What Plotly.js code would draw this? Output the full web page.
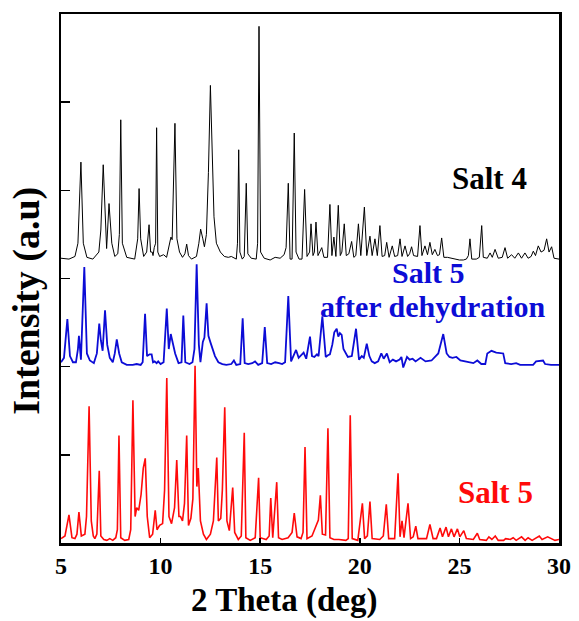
<!DOCTYPE html>
<html>
<head>
<meta charset="utf-8">
<script src="https://cdn.plot.ly/plotly-3.0.1.min.js"></script>
<style>
  html, body { margin: 0; padding: 0; background: #fff; }
  #chart { width: 579px; height: 621px; }
</style>
</head>
<body>
<div id="chart"></div>
<script>
// Powder X-ray diffraction patterns, stacked with vertical offsets (arbitrary units)

// Salt 4 (black, top)
const salt4_2theta = [
  5.00, 5.40, 5.70, 5.85, 6.00, 6.12, 6.30, 6.60, 6.90, 7.00, 7.12, 7.22, 7.29, 7.41, 7.55, 7.70,
  7.85, 7.93, 8.00, 8.08, 8.30, 8.70, 8.85, 8.92, 9.00, 9.15, 9.30, 9.42, 9.50, 9.58, 9.62, 9.68,
  9.75, 9.80, 9.86, 9.95, 10.15, 10.30, 10.45, 10.52, 10.58, 10.72, 10.82, 10.95, 11.10, 11.22,
  11.31, 11.40, 11.55, 11.80, 11.92, 12.01, 12.12, 12.20, 12.30, 12.40, 12.50, 12.58, 12.68, 12.80,
  13.00, 13.20, 13.40, 13.55, 13.70, 13.80, 13.86, 13.92, 13.98, 14.10, 14.20, 14.30, 14.38, 14.55,
  14.80, 14.87, 14.94, 15.02, 15.20, 15.50, 15.75, 16.00, 16.20, 16.30, 16.41, 16.50, 16.60, 16.71,
  16.80, 16.95, 17.10, 17.23, 17.35, 17.48, 17.55, 17.65, 17.72, 17.80, 17.90, 18.00, 18.09, 18.20,
  18.38, 18.50, 18.60, 18.70, 18.80, 18.92, 19.02, 19.10, 19.22, 19.32, 19.45, 19.59, 19.70, 19.80,
  19.93, 20.05, 20.23, 20.35, 20.51, 20.62, 20.76, 20.88, 21.01, 21.12, 21.25, 21.35, 21.47, 21.63,
  21.75, 21.90, 22.02, 22.12, 22.27, 22.40, 22.50, 22.60, 22.70, 22.90, 23.02, 23.12, 23.27, 23.40,
  23.52, 23.64, 23.77, 23.90, 24.00, 24.11, 24.22, 24.40, 24.60, 24.80, 25.00, 25.20, 25.35, 25.45,
  25.53, 25.62, 25.85, 26.00, 26.12, 26.20, 26.40, 26.54, 26.65, 26.79, 26.95, 27.15, 27.29, 27.42,
  27.62, 27.78, 27.96, 28.12, 28.29, 28.45, 28.60, 28.71, 28.82, 28.96, 29.10, 29.25, 29.38, 29.50,
  29.63, 29.75, 30.00
];
const salt4_intensity = [
  3.23, 3.22, 3.25, 3.40, 4.32, 3.40, 3.24, 3.22, 3.30, 3.55, 4.29, 3.60, 3.34, 3.85, 3.40, 3.25,
  3.28, 3.50, 4.80, 3.40, 3.24, 3.22, 3.45, 4.02, 3.45, 3.25, 3.30, 3.61, 3.30, 3.30, 3.26, 3.35,
  3.40, 4.71, 3.30, 3.25, 3.27, 3.24, 3.40, 3.47, 3.44, 4.76, 3.45, 3.30, 3.24, 3.28,
  3.39, 3.26, 3.22, 3.25, 3.40, 3.56, 3.45, 3.36, 3.50, 4.20, 5.19, 4.60, 3.70, 3.40,
  3.30, 3.25, 3.24, 3.25, 3.23, 3.22, 3.40, 4.46, 3.30, 3.22, 3.25, 4.08, 3.28, 3.23,
  3.22, 3.40, 5.86, 3.30, 3.23, 3.21, 3.24, 3.23, 3.27, 3.35, 4.08, 3.22, 3.22, 4.65,
  3.30, 3.22, 3.22, 4.01, 3.25, 3.30, 3.62, 3.26, 3.30, 3.64, 3.26, 3.30, 3.35, 3.24,
  3.24, 3.84, 3.26, 3.47, 3.25, 3.83, 3.26, 3.30, 3.62, 3.26, 3.28, 3.42, 3.24, 3.26,
  3.62, 3.26, 3.81, 3.26, 3.48, 3.26, 3.45, 3.26, 3.60, 3.25, 3.26, 3.41, 3.24, 3.37,
  3.25, 3.26, 3.45, 3.25, 3.37, 3.25, 3.28, 3.36, 3.26, 3.25, 3.60, 3.26, 3.37, 3.27,
  3.41, 3.27, 3.33, 3.26, 3.27, 3.46, 3.24, 3.24, 3.23, 3.22, 3.21, 3.21, 3.22, 3.26,
  3.45, 3.22, 3.22, 3.24, 3.60, 3.24, 3.23, 3.29, 3.24, 3.33, 3.23, 3.24, 3.35, 3.23,
  3.27, 3.23, 3.29, 3.23, 3.29, 3.23, 3.25, 3.31, 3.26, 3.37, 3.30, 3.32, 3.45, 3.30,
  3.36, 3.23, 3.22
];

// Salt 5 after dehydration (blue, middle)
const dehyd_2theta = [
  5.00, 5.15, 5.32, 5.45, 5.60, 5.75, 5.85, 5.90, 6.00, 6.17, 6.30, 6.45, 6.65, 6.80, 6.92, 7.00,
  7.09, 7.21, 7.32, 7.45, 7.60, 7.70, 7.80, 7.92, 8.05, 8.30, 8.60, 8.80, 9.00, 9.10, 9.22, 9.32,
  9.45, 9.55, 9.62, 9.70, 9.80, 9.88, 10.00, 10.15, 10.31, 10.41, 10.51, 10.62, 10.73, 10.90, 11.05,
  11.14, 11.24, 11.45, 11.60, 11.70, 11.81, 11.92, 12.00, 12.12, 12.20, 12.31, 12.40, 12.51, 12.62,
  12.73, 12.90, 13.10, 13.30, 13.55, 13.68, 13.80, 14.00, 14.12, 14.22, 14.40, 14.60, 14.74, 14.90,
  15.10, 15.23, 15.35, 15.55, 15.75, 15.95, 16.10, 16.25, 16.41, 16.55, 16.68, 16.80, 16.93, 17.05,
  17.18, 17.31, 17.50, 17.60, 17.72, 17.85, 17.93, 18.12, 18.29, 18.40, 18.50, 18.62, 18.72, 18.84,
  18.92, 19.00, 19.09, 19.18, 19.26, 19.40, 19.60, 19.81, 19.96, 20.10, 20.20, 20.35, 20.48, 20.60,
  20.75, 20.92, 21.08, 21.20, 21.36, 21.50, 21.66, 21.82, 22.00, 22.09, 22.18, 22.37, 22.50, 22.65,
  22.80, 23.05, 23.30, 23.60, 23.94, 24.19, 24.36, 24.50, 24.65, 24.85, 25.05, 25.25, 25.50, 25.70,
  25.90, 26.10, 26.30, 26.40, 26.61, 26.85, 27.20, 27.30, 27.60, 27.85, 28.05, 28.40, 28.70, 28.85,
  29.05, 29.20, 29.30, 29.60, 30.00
];
const dehyd_intensity = [
  2.05, 2.10, 2.54, 2.12, 2.05, 2.05, 2.20, 2.35, 2.08, 3.13, 2.15, 2.07, 2.04, 2.15, 2.49, 2.30,
  2.18, 2.64, 2.25, 2.10, 2.05, 2.15, 2.31, 2.15, 2.05, 2.02, 2.02, 2.03, 2.02, 2.05, 2.60, 2.12,
  2.14, 2.14, 2.05, 2.06, 2.04, 2.06, 2.03, 2.05, 2.66, 2.20, 2.37, 2.25, 2.15, 2.04, 2.05,
  2.58, 2.05, 2.03, 2.05, 2.20, 3.16, 2.25, 2.05, 2.28, 2.33, 2.72, 2.35, 2.27, 2.18,
  2.12, 2.05, 2.03, 2.02, 2.03, 2.07, 2.02, 2.03, 2.55, 2.04, 2.03, 2.04, 2.06, 2.02,
  2.04, 2.45, 2.04, 2.03, 2.05, 2.04, 2.03, 2.05, 2.80, 2.06, 2.12, 2.19, 2.10, 2.13,
  2.16, 2.09, 2.34, 2.12, 2.11, 2.14, 2.12, 2.57, 2.11, 2.13, 2.14, 2.25, 2.39, 2.43,
  2.34, 2.38, 2.36, 2.20, 2.17, 2.11, 2.12, 2.43, 2.08, 2.12, 2.10, 2.26, 2.12, 2.06,
  2.04, 2.06, 2.15, 2.09, 2.15, 2.05, 2.08, 2.06, 2.08, 2.11, 1.99, 2.11, 2.08, 2.09,
  2.06, 2.10, 2.06, 2.07, 2.15, 2.37, 2.15, 2.11, 2.10, 2.11, 2.07, 2.06, 2.05, 2.04,
  2.07, 2.03, 2.03, 2.15, 2.18, 2.16, 2.15, 2.04, 2.03, 2.04, 2.02, 2.02, 2.02, 2.06,
  2.07, 2.07, 2.03, 2.02, 2.02
];

// Salt 5 (red, bottom)
const salt5_2theta = [
  5.00, 5.20, 5.40, 5.55, 5.70, 5.80, 5.90, 6.02, 6.20, 6.28, 6.41, 6.52, 6.62, 6.70, 6.80, 6.92,
  7.00, 7.15, 7.30, 7.45, 7.60, 7.75, 7.83, 7.91, 8.00, 8.20, 8.40, 8.50, 8.61, 8.72, 8.80, 8.90,
  9.02, 9.13, 9.23, 9.33, 9.45, 9.60, 9.73, 9.82, 9.95, 10.10, 10.20, 10.31, 10.42, 10.55, 10.70,
  10.81, 10.92, 11.00, 11.10, 11.20, 11.31, 11.40, 11.52, 11.62, 11.73, 11.82, 11.89, 12.00, 12.15,
  12.30, 12.50, 12.65, 12.82, 12.90, 13.02, 13.10, 13.22, 13.33, 13.45, 13.62, 13.72, 13.90, 14.05,
  14.20, 14.28, 14.50, 14.75, 14.92, 15.00, 15.30, 15.45, 15.53, 15.63, 15.83, 15.92, 16.10, 16.40,
  16.60, 16.71, 16.85, 17.05, 17.15, 17.25, 17.35, 17.60, 17.80, 17.92, 18.02, 18.12, 18.28, 18.40,
  18.50, 18.70, 18.95, 19.30, 19.42, 19.52, 19.62, 19.90, 20.13, 20.24, 20.38, 20.51, 20.62, 21.00,
  21.18, 21.33, 21.45, 21.75, 21.92, 22.02, 22.12, 22.22, 22.42, 22.55, 22.68, 22.81, 22.92, 23.35,
  23.52, 23.68, 23.85, 24.03, 24.15, 24.33, 24.45, 24.60, 24.73, 24.90, 25.02, 25.22, 25.35, 25.70,
  25.90, 26.02, 26.35, 26.48, 26.63, 26.80, 26.95, 27.22, 27.32, 27.55, 27.70, 27.85, 28.12, 28.30,
  28.45, 28.65, 29.01, 29.15, 29.43, 29.58, 29.80, 30.00
];
const salt5_intensity = [
  0.05, 0.08, 0.32, 0.06, 0.05, 0.10, 0.35, 0.08, 0.10, 0.30, 1.55, 0.25, 0.08, 0.05, 0.10, 0.82,
  0.08, 0.04, 0.03, 0.05, 0.03, 0.06, 0.15, 1.22, 0.06, 0.03, 0.04, 0.15, 1.62, 0.30, 0.40, 0.37,
  0.55, 0.85, 0.96, 0.30, 0.06, 0.10, 0.37, 0.15, 0.20, 0.22, 0.60, 1.87, 0.30, 0.22, 0.40,
  0.94, 0.30, 0.30, 0.25, 0.45, 1.22, 0.20, 0.28, 0.50, 2.01, 0.64, 0.85, 0.25, 0.10,
  0.04, 0.10, 0.25, 0.97, 0.25, 0.28, 0.60, 1.54, 0.25, 0.14, 0.63, 0.12, 0.04, 0.08,
  1.25, 0.06, 0.03, 0.06, 0.74, 0.06, 0.04, 0.08, 0.51, 0.06, 0.69, 0.06, 0.04, 0.06,
  0.12, 0.34, 0.07, 0.05, 0.12, 1.09, 0.05, 0.08, 0.20, 0.26, 0.54, 0.10, 0.09, 1.30,
  0.06, 0.04, 0.04, 0.03, 0.05, 1.45, 0.05, 0.03, 0.45, 0.05, 0.08, 0.47, 0.05, 0.04,
  0.08, 0.44, 0.05, 0.05, 0.79, 0.07, 0.25, 0.06, 0.45, 0.05, 0.07, 0.19, 0.05, 0.05,
  0.21, 0.05, 0.05, 0.17, 0.07, 0.18, 0.07, 0.16, 0.07, 0.16, 0.07, 0.14, 0.05, 0.04,
  0.11, 0.04, 0.03, 0.07, 0.04, 0.08, 0.03, 0.03, 0.05, 0.04, 0.06, 0.03, 0.07, 0.03,
  0.06, 0.03, 0.08, 0.04, 0.07, 0.05, 0.03, 0.04
];

const xTicks = [5, 10, 15, 20, 25, 30];

const serif = '"Liberation Serif", "Times New Roman", Times, serif';
const blue = '#0c0cd6';
const red = '#ff0a0a';

const traces = [
  { x: salt4_2theta, y: salt4_intensity, mode: 'lines', line: { color: '#000000', width: 1 }, hoverinfo: 'x+y' },
  { x: dehyd_2theta, y: dehyd_intensity, mode: 'lines', line: { color: blue, width: 1.8 }, hoverinfo: 'x+y' },
  { x: salt5_2theta, y: salt5_intensity, mode: 'lines', line: { color: red, width: 1.6 }, hoverinfo: 'x+y' }
];

const labelFont = (color, size) => ({ family: serif, size: size, color: color, weight: 'bold' });

const layout = {
  width: 579,
  height: 621,
  margin: { l: 61, r: 20, t: 14, b: 78 },
  paper_bgcolor: '#ffffff',
  plot_bgcolor: '#ffffff',
  showlegend: false,
  xaxis: {
    range: [5, 30],
    tickvals: xTicks,
    ticktext: xTicks.map(String),
    ticks: 'inside',
    ticklen: 5,
    tickwidth: 1.5,
    tickcolor: '#000',
    showline: true,
    mirror: true,
    linecolor: '#000',
    linewidth: 2.5,
    showgrid: false,
    zeroline: false,
    tickfont: labelFont('#000', 24)
  },
  yaxis: {
    range: [0, 6],
    dtick: 1,
    tick0: 0,
    ticks: 'inside',
    ticklen: 9,
    tickwidth: 1.5,
    tickcolor: '#000',
    showticklabels: false,
    showline: true,
    mirror: true,
    linecolor: '#000',
    linewidth: 2.5,
    showgrid: false,
    zeroline: false
  },
  annotations: [
    { text: '2 Theta (deg)', xref: 'paper', yref: 'paper', x: 0.448, y: -0.108,
      xanchor: 'center', yanchor: 'middle', showarrow: false, font: labelFont('#000', 33) },
    { text: 'Intensity (a.u)', xref: 'paper', yref: 'paper', x: -0.068, y: 0.458, textangle: -90,
      xanchor: 'center', yanchor: 'middle', showarrow: false, font: labelFont('#000', 38) },
    { text: 'Salt 4', x: 26.49, y: 4.13, xanchor: 'center', yanchor: 'middle',
      showarrow: false, font: labelFont('#000', 31) },
    { text: 'Salt 5', x: 23.47, y: 3.07, xanchor: 'center', yanchor: 'middle',
      showarrow: false, font: labelFont(blue, 30) },
    { text: 'after dehydration', x: 23.67, y: 2.68, xanchor: 'center', yanchor: 'middle',
      showarrow: false, font: labelFont(blue, 30) },
    { text: 'Salt 5', x: 26.79, y: 0.57, xanchor: 'center', yanchor: 'middle',
      showarrow: false, font: labelFont(red, 31) }
  ]
};

Plotly.newPlot('chart', traces, layout, { displayModeBar: false, staticPlot: true });
</script>
</body>
</html>
